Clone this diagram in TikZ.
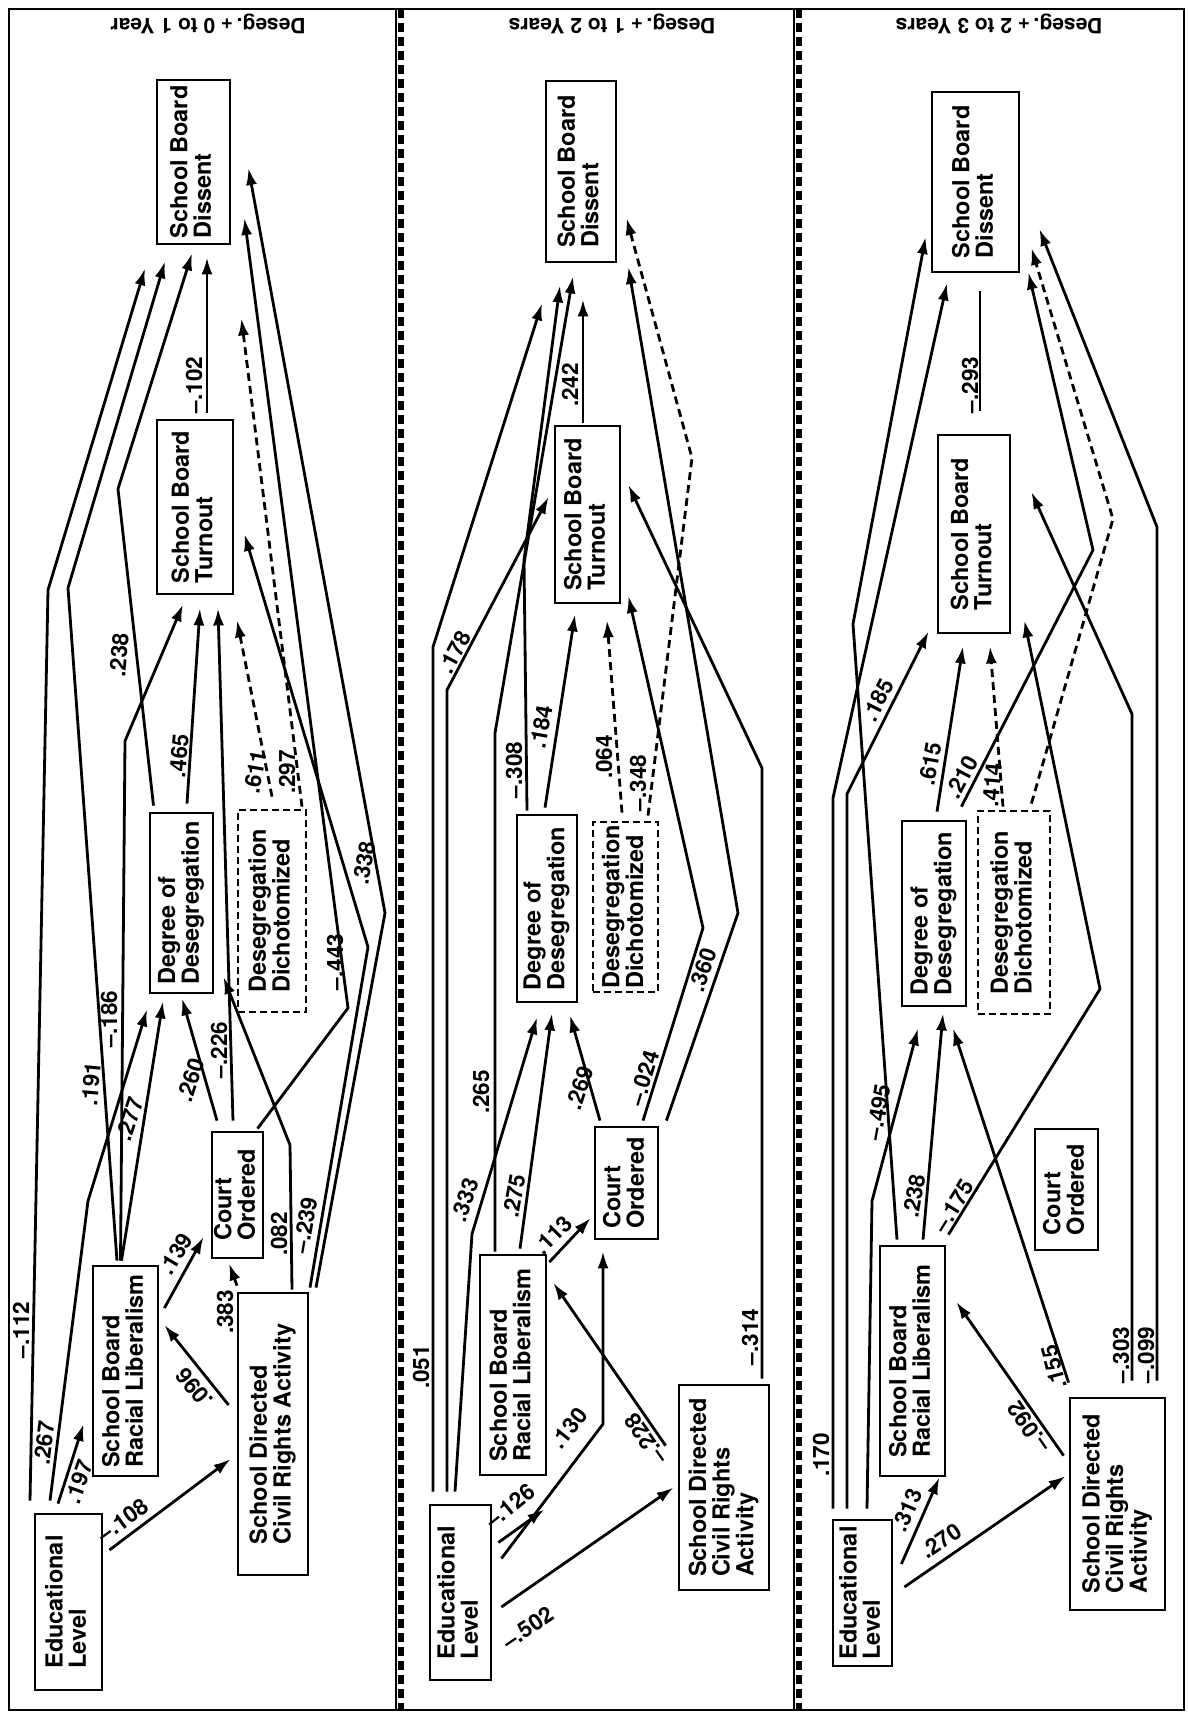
\documentclass[tikz,border=0pt]{standalone}
\usepackage{fontspec}
\setmainfont{TeX Gyre Heros}
\usepackage{graphicx}
\usetikzlibrary{arrows.meta}
\newcommand{\vtext}[1]{\rotatebox{90}{\begin{tabular}{@{}l@{}}#1\end{tabular}}}
\newcommand{\boxfont}{\fontsize{23.5}{20.5}\selectfont\bfseries}
\newcommand{\coeffont}{\fontsize{22.5}{22}\selectfont\bfseries}

\begin{document}
\begin{tikzpicture}[
  x=1pt, y=-1pt,
  >=Latex,
  box/.style={draw, line width=2.8pt, inner sep=1.5pt, font=\boxfont},
  dbox/.style={box, dash pattern=on 7pt off 4pt},
  dims/.style 2 args={minimum width=#1pt, minimum height=#2pt},
  arr/.style={-{Latex[length=17pt,width=11pt]}, line width=2.8pt},
  darr/.style={arr, dash pattern=on 8pt off 5pt},
  nohead/.style={line width=2.8pt},
  coef/.style={font=\coeffont, inner sep=0pt},
  ttl/.style={font=\fontsize{21}{21}\selectfont\bfseries, inner sep=0pt, rotate=180},
  frame/.style={line width=2.2pt},
  strip/.style={line width=6pt, dash pattern=on 9pt off 5pt}
]
\useasboundingbox (0,0) rectangle (1187,1716);

% frame and panel strips
\draw[frame] (9,9) rectangle (1184,1710);
\draw[frame] (396,9) -- (396,1710);
\draw[strip] (401,9) -- (401,1710);
\draw[frame] (794,9) -- (794,1710);
\draw[strip] (799,9) -- (799,1710);

\node[ttl] (t1) at (208,24) {Deseg.\,+ 0 to 1 Year};
\node[ttl] (t2) at (612,24) {Deseg.\,+ 1 to 2 Years};
\node[ttl] (t3) at (999,24) {Deseg.\,+ 2 to 3 Years};

% ---------- Panel 1: 0 to 1 year
\node[box, dims={73}{164}] (dis1) at (193.5,162) {\vtext{School Board\\Dissent}};
\node[box, dims={76}{174}] (tur1) at (195,507) {\vtext{School Board\\Turnout}};
\node[box, dims={63}{180}] (deg1) at (181.5,903) {\vtext{Degree of\\Desegregation}};
\node[dbox, dims={68}{202}] (dic1) at (272,911) {\vtext{Desegregation\\Dichotomized}};
\node[box, dims={51}{126}] (cou1) at (237.5,1195) {\vtext{Court\\Ordered}};
\node[box, dims={65}{210}] (lib1) at (125.5,1371) {\vtext{School Board\\Racial Liberalism}};
\node[box, dims={70}{282}] (cra1) at (273,1434) {\vtext{School Directed\\Civil Rights Activity}};
\node[box, dims={67}{176}] (edu1) at (68.5,1602) {\vtext{Educational\\Level}};

\draw[arr] ([xshift=-38.5pt,yshift=12pt]edu1.north) -- (48,590) -- ([xshift=-48.5pt,yshift=-23pt]dis1.south);
\draw[arr] ([xshift=-8.5pt,yshift=4pt]lib1.north) -- (68,588) -- ([xshift=-28.5pt,yshift=-16pt]dis1.south);
\draw[arr] ([xshift=-28pt,yshift=6pt]deg1.north) -- (118,489) -- ([xshift=-1.5pt,yshift=-8pt]dis1.south);
\draw[arr] ([xshift=12pt,yshift=6pt]tur1.north) -- ([xshift=13.5pt,yshift=-12pt]dis1.south);
\draw[arr] ([xshift=43pt,yshift=4pt]cra1.north) -- (385,913) -- ([xshift=17pt,yshift=-6pt]dis1.east);
\draw[arr] ([xshift=20pt,yshift=2pt]cou1.north) -- (348,1008) -- ([xshift=13pt,yshift=-56pt]dis1.east);
\draw[darr] ([xshift=30pt,yshift=2pt]dic1.north) -- ([xshift=10pt,yshift=-73pt]dis1.south east);
\draw[arr] ([xshift=37pt,yshift=4pt]cra1.north) -- (368,947) -- ([xshift=10pt,yshift=-27pt]tur1.east);
\draw[arr] ([xshift=-5pt,yshift=4pt]lib1.north) -- (125,741) -- ([xshift=-12pt,yshift=-9pt]tur1.south);
\draw[arr] ([xshift=5.5pt,yshift=8pt]deg1.north) -- ([xshift=5pt,yshift=-13pt]tur1.south);
\draw[arr] ([xshift=-4.5pt,yshift=10pt]cou1.north) -- ([xshift=23pt,yshift=-13pt]tur1.south);
\draw[darr] ([yshift=12pt]dic1.north) -- ([xshift=42pt,yshift=-25pt]tur1.south);
\draw[arr] ([xshift=-18.5pt,yshift=12pt]edu1.north) -- (88,1201) -- ([xshift=-34.5pt,yshift=-15pt]deg1.south);
\draw[arr] ([xshift=-4pt,yshift=4pt]lib1.north) -- ([xshift=-18.5pt,yshift=-7pt]deg1.south);
\draw[arr] ([xshift=-20.5pt,yshift=10pt]cou1.north) -- ([xshift=0.5pt,yshift=-4pt]deg1.south);
\draw[arr] ([xshift=19pt,yshift=2pt]cra1.north) -- (290,1145) -- ([xshift=9pt,yshift=-74pt]deg1.east);
\draw[arr] ([xshift=-10.5pt,yshift=9pt]edu1.north) -- ([xshift=-8pt,yshift=-53pt]lib1.west);
\draw[arr] ([xshift=6pt,yshift=52pt]edu1.east) -- ([xshift=-6pt,yshift=-25pt]cra1.west);
\draw[arr] ([xshift=-8pt,yshift=29pt]cra1.west) -- ([xshift=5pt,yshift=46pt]lib1.east);
\draw[arr] ([xshift=5pt,yshift=63pt]lib1.east) -- ([xshift=-7pt,yshift=-42pt]cou1.west);
\draw[arr] ([xshift=-36pt,yshift=6pt]cra1.north) -- ([xshift=-8.5pt,yshift=-4pt]cou1.south);

\node[coef, rotate=90] (w1a) at (21,1330) {--.112};
\node[coef, rotate=85] (w1b) at (91,1084) {.191};
\node[coef, rotate=85] (w1c) at (119,655) {.238};
\node[coef, rotate=90] (w1d) at (194,385) {--.102};
\node[coef, rotate=80] (w1e) at (364,863) {.338};
\node[coef, rotate=90] (w1f) at (335,962) {--.443};
\node[coef, rotate=90] (w1g) at (287,772) {.297};
\node[coef, rotate=80] (w1h) at (305,1225) {--.239};
\node[coef, rotate=90] (w1i) at (109,1019) {--.186};
\node[coef, rotate=85] (w1j) at (179,756) {.465};
\node[coef, rotate=90] (w1k) at (219,1050) {--.226};
\node[coef, rotate=80] (w1l) at (255,772) {.611};
\node[coef, rotate=83] (w1m) at (44,1443) {.267};
\node[coef, rotate=72] (w1n) at (130,1119) {.277};
\node[coef, rotate=72] (w1o) at (191,1080) {.260};
\node[coef, rotate=90] (w1p) at (279,1234) {.082};
\node[coef, rotate=70] (w1q) at (79,1482) {.197};
\node[coef, rotate=36] (w1r) at (123,1520) {--.108};
\node[coef, rotate=130] (w1s) at (194,1388) {.096};
\node[coef, rotate=59] (w1t) at (176,1254) {.139};
\node[coef, rotate=90] (w1u) at (225,1312) {.383};

% ---------- Panel 2: 1 to 2 years
\node[box, dims={70}{181}] (dis2) at (581,171.5) {\vtext{School Board\\Dissent}};
\node[box, dims={65}{177}] (tur2) at (587.5,514.5) {\vtext{School Board\\Turnout}};
\node[box, dims={60}{187}] (deg2) at (547,908.5) {\vtext{Degree of\\Desegregation}};
\node[dbox, dims={65}{170}] (dic2) at (625.5,907) {\vtext{Desegregation\\Dichotomized}};
\node[box, dims={63}{112}] (cou2) at (626.5,1183) {\vtext{Court\\Ordered}};
\node[box, dims={66}{220}] (lib2) at (513,1365) {\vtext{School Board\\Racial Liberalism}};
\node[box, dims={90}{205}] (cra2) at (724,1487.5) {\vtext{School Directed\\Civil Rights\\Activity}};
\node[box, dims={61}{175}] (edu2) at (460.5,1592.5) {\vtext{Educational\\Level}};

\draw[arr] ([xshift=-27.5pt,yshift=12pt]edu2.north) -- (433,647) -- ([xshift=-39pt,yshift=-40pt]dis2.south);
\draw[arr] ([xshift=-13.5pt,yshift=12pt]edu2.north) -- (447,690) -- ([xshift=-5pt,yshift=17.5pt]tur2.west);
\draw[arr] ([xshift=-5.5pt,yshift=12pt]edu2.north) -- (472,1234) -- ([xshift=-10pt,yshift=-14pt]deg2.south);
\draw[arr] ([xshift=-18pt,yshift=2pt]lib2.north) -- (495,733) -- ([xshift=-8pt,yshift=-13pt]dis2.south);
\draw[arr] ([xshift=7pt,yshift=5pt]lib2.north) -- ([xshift=5pt,yshift=-10pt]deg2.south);
\draw[arr] ([xshift=-20pt,yshift=3pt]deg2.north) -- (524,560) -- ([xshift=-21pt,yshift=-22pt]dis2.south);
\draw[arr] ([xshift=-2pt,yshift=6pt]deg2.north) -- ([xshift=-12.5pt,yshift=-10pt]tur2.south);
\draw[arr] ([xshift=-4.5pt,yshift=2pt]tur2.north) -- ([xshift=2pt,yshift=-36pt]dis2.south);
\draw[darr] ([xshift=22.5pt,yshift=5pt]dic2.north) -- (692,458) -- ([xshift=9pt,yshift=-46.5pt]dis2.east);
\draw[darr] ([xshift=-3.5pt,yshift=8pt]dic2.north) -- ([xshift=19.5pt,yshift=-16pt]tur2.south);
\draw[arr] ([xshift=7pt,yshift=5pt]cou2.north east) -- (738,913) -- ([xshift=11pt,yshift=-95.5pt]dis2.east);
\draw[arr] ([xshift=16.5pt,yshift=5pt]cou2.north) -- (703,928) -- ([xshift=7pt,yshift=-81.5pt]tur2.east);
\draw[arr] ([xshift=38pt,yshift=5pt]cra2.north) -- (762,768) -- ([xshift=7pt,yshift=29.5pt]tur2.east);
\draw[arr] ([xshift=-26.5pt,yshift=5pt]cou2.north) -- ([xshift=23pt,yshift=-12pt]deg2.south);
\draw[arr] ([xshift=6pt,yshift=50pt]edu2.east) -- ([xshift=-3pt,yshift=-33pt]lib2.south east);
\draw[arr] ([xshift=9pt,yshift=34pt]edu2.east) -- (603,1424) -- ([xshift=-23.5pt,yshift=-11pt]cou2.south);
\draw[arr] ([xshift=9pt,yshift=-14.5pt]edu2.east) -- ([xshift=-4pt]cra2.west);
\draw[arr] ([xshift=-12pt,yshift=-62pt]cra2.north west) -- ([xshift=6pt,yshift=82pt]lib2.east);
\draw[arr] ([xshift=2pt,yshift=103pt]lib2.east) -- ([xshift=-3pt,yshift=-35pt]cou2.west);

\node[coef, rotate=90] (w2a) at (421,1367) {.051};
\node[coef, rotate=62] (w2b) at (455,652) {.178};
\node[coef, rotate=70] (w2c) at (465,1200) {.333};
\node[coef, rotate=90] (w2d) at (481,1092) {.265};
\node[coef, rotate=80] (w2e) at (514,1196) {.275};
\node[coef, rotate=90] (w2f) at (514,770) {--.308};
\node[coef, rotate=80] (w2g) at (541,727) {.184};
\node[coef, rotate=90] (w2h) at (570,385) {.242};
\node[coef, rotate=90] (w2i) at (638,783) {--.348};
\node[coef, rotate=90] (w2j) at (604,757) {.064};
\node[coef, rotate=71] (w2k) at (703,970) {.360};
\node[coef, rotate=73] (w2l) at (644,1078) {--.024};
\node[coef, rotate=90] (w2m) at (750,1337) {--.314};
\node[coef, rotate=72] (w2n) at (580,1088) {.269};
\node[coef, rotate=39] (w2o) at (510,1506) {--.126};
\node[coef, rotate=52] (w2p) at (569,1428) {.130};
\node[coef, rotate=34] (w2q) at (528,1628) {--.502};
\node[coef, rotate=125] (w2r) at (646,1439) {--.228};
\node[coef, rotate=45] (w2s) at (553,1235) {.113};

% ---------- Panel 3: 2 to 3 years
\node[box, dims={87}{180}] (dis3) at (975.5,182) {\vtext{School Board\\Dissent}};
\node[box, dims={72}{198}] (tur3) at (974,534) {\vtext{School Board\\Turnout}};
\node[box, dims={64}{185}] (deg3) at (934,913.5) {\vtext{Degree of\\Desegregation}};
\node[dbox, dims={72}{203}] (dic3) at (1014,912.5) {\vtext{Desegregation\\Dichotomized}};
\node[box, dims={63}{121}] (cou3) at (1066.5,1189.5) {\vtext{Court\\Ordered}};
\node[box, dims={65}{230}] (lib3) at (912.5,1361) {\vtext{School Board\\Racial Liberalism}};
\node[box, dims={95}{212}] (cra3) at (1117.5,1504) {\vtext{School Directed\\Civil Rights\\Activity}};
\node[box, dims={59}{146}] (edu3) at (862.5,1593) {\vtext{Educational\\Level}};

\draw[arr] ([xshift=-29.5pt,yshift=10pt]edu3.north) -- (833,798) -- ([xshift=-28.5pt,yshift=-10pt]dis3.south);
\draw[arr] ([xshift=-15.5pt,yshift=10pt]edu3.north) -- (847,794) -- ([xshift=-8pt,yshift=3pt]tur3.south west);
\draw[arr] ([xshift=4.5pt,yshift=10pt]edu3.north) -- (872,1201) -- ([xshift=-16pt,yshift=-21pt]deg3.south);
\draw[arr] ([xshift=-15.5pt,yshift=5pt]lib3.north) -- (853,624) -- ([xshift=-5pt,yshift=-55pt]dis3.west);
\draw[arr] ([xshift=10.5pt,yshift=5pt]lib3.north) -- ([xshift=9pt,yshift=-6pt]deg3.south);
\draw[arr] ([xshift=2pt,yshift=10pt]lib3.north east) -- (1100,989) -- ([xshift=13pt,yshift=14pt]tur3.south east);
\draw[arr] ([yshift=14pt]cra3.north west) -- ([xshift=19pt,yshift=-21pt]deg3.south);
\draw[arr] ([xshift=-5pt,yshift=-59pt]cra3.north west) -- ([xshift=10pt,yshift=59pt]lib3.east);
\draw[arr] ([xshift=8pt,yshift=29pt]edu3.east) -- ([xshift=-7pt]lib3.south east);
\draw[arr] ([xshift=11pt,yshift=6pt]edu3.east) -- ([xshift=-3pt,yshift=28pt]cra3.west);
\draw[arr] ([xshift=3pt,yshift=8pt]deg3.north) -- ([xshift=-11pt,yshift=-12pt]tur3.south);
\draw[arr] ([xshift=-6pt,yshift=13pt]deg3.north east) -- (1093,550) -- ([xshift=8pt,yshift=1pt]dis3.south east);
\draw[darr] ([xshift=-11pt,yshift=3pt]dic3.north) -- ([xshift=16pt,yshift=-12pt]tur3.south);
\draw[darr] ([xshift=-20pt,yshift=6pt]dic3.north east) -- (1113,519) -- ([xshift=11pt,yshift=-66pt]dis3.east);
\draw[arr] ([xshift=14.5pt,yshift=16pt]cra3.north) -- (1132,714) -- ([xshift=20pt,yshift=42pt]tur3.east);
\draw[arr] ([xshift=39.5pt,yshift=16pt]cra3.north) -- (1157,527) -- ([xshift=19pt,yshift=-47pt]dis3.east);
\draw[nohead] ([xshift=6pt,yshift=23pt]tur3.north) -- ([xshift=4.5pt,yshift=-18pt]dis3.south);

\node[coef, rotate=90] (w3a) at (821,1455) {.170};
\node[coef, rotate=63] (w3b) at (878,700) {.185};
\node[coef, rotate=80] (w3c) at (878,1112) {--.495};
\node[coef, rotate=80] (w3d) at (914,1196) {.238};
\node[coef, rotate=58] (w3e) at (954,1206) {--.175};
\node[coef, rotate=105] (w3f) at (1054,1367) {.155};
\node[coef, rotate=125] (w3g) at (1029,1427) {--.092};
\node[coef, rotate=67] (w3h) at (907,1510) {.313};
\node[coef, rotate=34] (w3i) at (941,1541) {.270};
\node[coef, rotate=80] (w3j) at (930,764) {.615};
\node[coef, rotate=62] (w3k) at (962,777) {.210};
\node[coef, rotate=85] (w3l) at (992,785) {.414};
\node[coef, rotate=90] (w3m) at (1121,1355) {--.303};
\node[coef, rotate=90] (w3n) at (1146,1355) {--.099};
\node[coef, rotate=90] (w3o) at (970,385) {--.293};
\end{tikzpicture}
\end{document}
